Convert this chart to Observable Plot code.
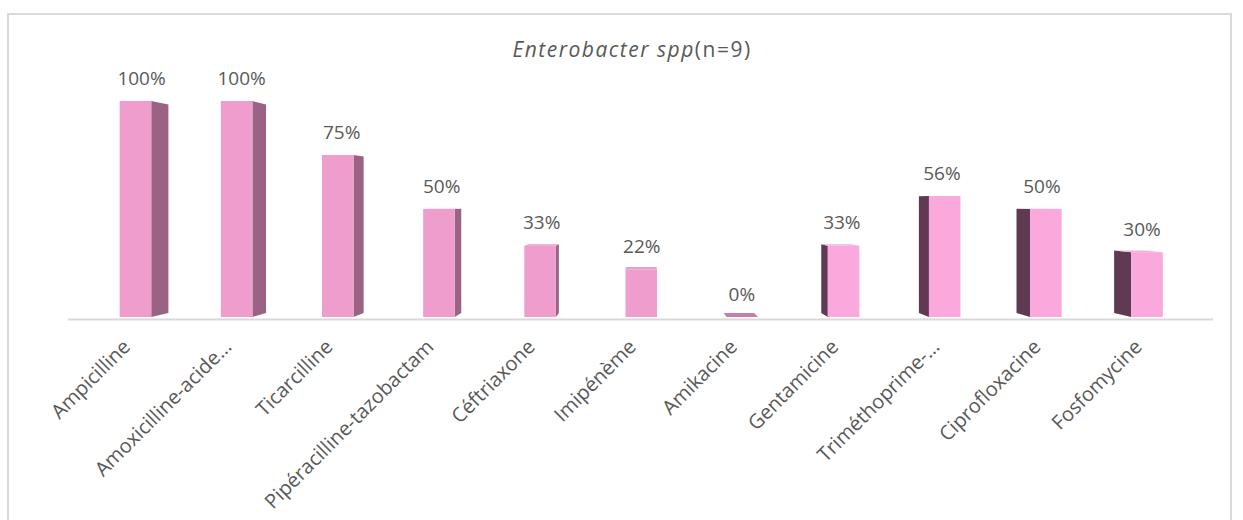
<!DOCTYPE html>
<html>
<head>
<meta charset="utf-8">
<script src="https://cdn.jsdelivr.net/npm/d3@7"></script>
<script src="https://cdn.jsdelivr.net/npm/@observablehq/plot@0.6"></script>
<style>
  html, body { margin: 0; padding: 0; background: #fff; overflow: hidden; }
  #wrap { position: relative; width: 1243px; height: 520px; font-family: "Open Sans", sans-serif; }
  #frame { position: absolute; left: 7px; top: 13px; width: 1225px; height: 600px;
           border: 2px solid #d9d9d9; box-sizing: border-box; }
  #title { position: absolute; left: 632px; top: 35px; transform: translateX(-50%);
           font-size: 21px; letter-spacing: 1.5px; color: #595959; white-space: nowrap; line-height: 28px; }
  #chart { position: absolute; left: 0; top: 0; }
</style>
</head>
<body>
<div id="wrap">
  <div id="frame"></div>
  <div id="chart"></div>
  <div id="title"><i>Enterobacter spp</i>(n=9)</div>
</div>
<script>
// Resistance rates (%) of Enterobacter spp isolates by antibiotic
const categories = [
  "Ampicilline", "Amoxicilline-acide…", "Ticarcilline", "Pipéracilline-tazobactam",
  "Céftriaxone", "Imipénème", "Amikacine", "Gentamicine", "Triméthoprime-…",
  "Ciprofloxacine", "Fosfomycine"
];
const resistance = [100, 100, 75, 50, 33, 22, 0, 33, 56, 50, 30];

// 3D column look: back faces are pulled toward a vanishing point
const HW = 0.156;          // half width of a column front, in category units
const VP_X = 5, VP_Y = 54; // vanishing point (category index, value)
const S = 0.965;           // depth scale of the back face
const bx = x => VP_X + (x - VP_X) * S;
const by = y => VP_Y + (y - VP_Y) * S;

const bars = categories.map((name, i) => ({name, i, v: resistance[i], left: i < VP_X + 0.5}));

// side faces: right side for columns left of the vanishing point, left side otherwise
const sides = [];
for (const b of bars) {
  let edge = null;
  if (b.i + HW < VP_X) edge = b.i + HW;
  else if (b.i - HW > VP_X) edge = b.i - HW;
  if (edge === null) continue;
  const fill = b.i < VP_X ? "#9a6383" : "#5f3a52";
  sides.push({z: b.i, fill, x: edge, y1: 0, y2: b.v});
  sides.push({z: b.i, fill, x: bx(edge), y1: by(0), y2: by(b.v)});
}

// top faces, visible for columns lower than the vanishing point
const tops = [];
for (const b of bars) {
  if (b.v >= VP_Y) continue;
  const fill = b.v === 0 ? "#c47fab" : (b.left ? "#e3a0c8" : "#f2b3da");
  tops.push({z: b.i, fill, y: b.v, x1: b.i - HW, x2: b.i + HW});
  tops.push({z: b.i, fill, y: by(b.v), x1: bx(b.i - HW), x2: bx(b.i + HW)});
}

const chart = Plot.plot({
  width: 1243,
  height: 520,
  marginLeft: 68,
  marginRight: 30,
  marginTop: 101,
  marginBottom: 203,
  style: {fontFamily: "'Open Sans', sans-serif", fontSize: "19px", color: "#595959", background: "transparent"},
  x: {domain: [-0.667, 10.652]},
  y: {domain: [0, 100], axis: null},
  marks: [
    Plot.ruleY([0], {stroke: "#d9d9d9", strokeWidth: 2, dy: 2}),
    Plot.areaY(sides, {x: "x", y1: "y1", y2: "y2", z: "z", fill: "fill", curve: "linear"}),
    Plot.areaX(tops, {y: "y", x1: "x1", x2: "x2", z: "z", fill: "fill", curve: "linear"}),
    Plot.rect(bars.filter(b => b.v > 0), {
      x1: b => b.i - HW, x2: b => b.i + HW, y1: 0, y2: "v",
      fill: b => b.left ? "#ee9dcc" : "#fba9dc"
    }),
    Plot.text(bars, {
      x: b => b.i - (b.i - VP_X) * 0.011, y: "v", text: b => `${b.v}%`,
      dy: -23, fill: "#595959", fontSize: 19
    }),
    Plot.axisX({
      ticks: d3.range(categories.length), tickFormat: i => categories[i],
      tickRotate: -45, tickSize: 0, tickPadding: 26, dx: -9, fontSize: 20, label: null
    })
  ]
});
document.getElementById("chart").append(chart);
</script>
</body>
</html>
